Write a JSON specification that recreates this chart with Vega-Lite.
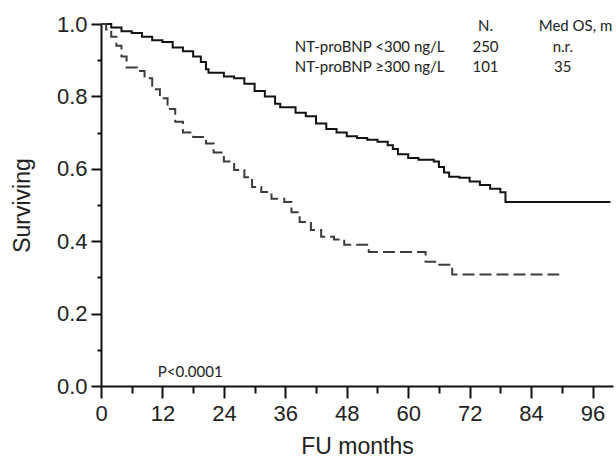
{
  "$schema": "https://vega.github.io/schema/vega-lite/v6.json",
  "width": 512,
  "height": 362,
  "autosize": "none",
  "padding": {"left": 101, "top": 24, "right": 3, "bottom": 80},
  "background": "white",
  "config": {
    "view": {"stroke": null},
    "axis": {
      "grid": false,
      "domainColor": "#111",
      "tickColor": "#111",
      "domainWidth": 2,
      "tickWidth": 2,
      "labelColor": "#222",
      "titleColor": "#222",
      "labelFont": "Liberation Sans",
      "titleFont": "Liberation Sans",
      "titleFontWeight": "normal"
    }
  },
  "datasets": {
    "km": [
      {"group": "low", "month": 0, "surv": 1.0},
      {"group": "low", "month": 2, "surv": 0.99},
      {"group": "low", "month": 4, "surv": 0.98},
      {"group": "low", "month": 6, "surv": 0.975},
      {"group": "low", "month": 8, "surv": 0.965},
      {"group": "low", "month": 10, "surv": 0.955},
      {"group": "low", "month": 12, "surv": 0.95},
      {"group": "low", "month": 14, "surv": 0.935},
      {"group": "low", "month": 16, "surv": 0.925},
      {"group": "low", "month": 18, "surv": 0.91},
      {"group": "low", "month": 19.5, "surv": 0.895},
      {"group": "low", "month": 20.5, "surv": 0.875},
      {"group": "low", "month": 21, "surv": 0.865},
      {"group": "low", "month": 24, "surv": 0.855},
      {"group": "low", "month": 26, "surv": 0.85},
      {"group": "low", "month": 28, "surv": 0.835},
      {"group": "low", "month": 30, "surv": 0.815},
      {"group": "low", "month": 32, "surv": 0.8},
      {"group": "low", "month": 34, "surv": 0.78},
      {"group": "low", "month": 35, "surv": 0.77},
      {"group": "low", "month": 38, "surv": 0.755},
      {"group": "low", "month": 40, "surv": 0.745},
      {"group": "low", "month": 42, "surv": 0.725},
      {"group": "low", "month": 44, "surv": 0.71},
      {"group": "low", "month": 46, "surv": 0.7},
      {"group": "low", "month": 48, "surv": 0.69},
      {"group": "low", "month": 50, "surv": 0.685},
      {"group": "low", "month": 52, "surv": 0.68},
      {"group": "low", "month": 54, "surv": 0.675},
      {"group": "low", "month": 56, "surv": 0.665},
      {"group": "low", "month": 57, "surv": 0.655},
      {"group": "low", "month": 58, "surv": 0.64},
      {"group": "low", "month": 60, "surv": 0.63},
      {"group": "low", "month": 62, "surv": 0.625},
      {"group": "low", "month": 65, "surv": 0.62},
      {"group": "low", "month": 66, "surv": 0.605},
      {"group": "low", "month": 67, "surv": 0.59},
      {"group": "low", "month": 68, "surv": 0.578},
      {"group": "low", "month": 70, "surv": 0.575},
      {"group": "low", "month": 72, "surv": 0.565},
      {"group": "low", "month": 74, "surv": 0.555},
      {"group": "low", "month": 76, "surv": 0.545},
      {"group": "low", "month": 78, "surv": 0.535},
      {"group": "low", "month": 79, "surv": 0.508},
      {"group": "low", "month": 99.5, "surv": 0.508},
      {"group": "high", "month": 0, "surv": 1.0},
      {"group": "high", "month": 1, "surv": 0.985},
      {"group": "high", "month": 2, "surv": 0.965},
      {"group": "high", "month": 3, "surv": 0.94},
      {"group": "high", "month": 4, "surv": 0.91},
      {"group": "high", "month": 5, "surv": 0.88},
      {"group": "high", "month": 7, "surv": 0.87},
      {"group": "high", "month": 8.5, "surv": 0.85},
      {"group": "high", "month": 10, "surv": 0.82},
      {"group": "high", "month": 11.5, "surv": 0.795},
      {"group": "high", "month": 13, "surv": 0.765},
      {"group": "high", "month": 14.5, "surv": 0.73},
      {"group": "high", "month": 16, "surv": 0.7},
      {"group": "high", "month": 18, "surv": 0.688},
      {"group": "high", "month": 20.5, "surv": 0.67},
      {"group": "high", "month": 22, "surv": 0.645},
      {"group": "high", "month": 24, "surv": 0.62},
      {"group": "high", "month": 26, "surv": 0.597},
      {"group": "high", "month": 28, "surv": 0.577},
      {"group": "high", "month": 29.5, "surv": 0.55},
      {"group": "high", "month": 31.3, "surv": 0.536},
      {"group": "high", "month": 33.3, "surv": 0.517},
      {"group": "high", "month": 35.8, "surv": 0.508},
      {"group": "high", "month": 37.2, "surv": 0.48},
      {"group": "high", "month": 38.8, "surv": 0.453},
      {"group": "high", "month": 41, "surv": 0.431},
      {"group": "high", "month": 43, "surv": 0.412},
      {"group": "high", "month": 45.5, "surv": 0.405},
      {"group": "high", "month": 47.5, "surv": 0.39},
      {"group": "high", "month": 52.3, "surv": 0.37},
      {"group": "high", "month": 63.4, "surv": 0.343},
      {"group": "high", "month": 65.5, "surv": 0.335},
      {"group": "high", "month": 68.6, "surv": 0.308},
      {"group": "high", "month": 89.5, "surv": 0.308}
    ]
  },
  "resolve": {"axis": {"x": "independent", "y": "independent"}},
  "layer": [
    {
      "data": {"name": "km"},
      "mark": {"type": "line", "interpolate": "step-after", "strokeWidth": 2},
      "encoding": {
        "x": {
          "field": "month",
          "type": "quantitative",
          "scale": {"domain": [0, 100], "nice": false},
          "axis": {
            "orient": "bottom",
            "values": [0, 12, 24, 36, 48, 60, 72, 84, 96],
            "tickSize": 12,
            "labelFontSize": 22,
            "labelPadding": 5,
            "labelFlush": false,
            "title": "FU months",
            "titleFontSize": 23,
            "titlePadding": 11
          }
        },
        "y": {
          "field": "surv",
          "type": "quantitative",
          "scale": {"domain": [0, 1], "nice": false},
          "axis": {
            "orient": "left",
            "values": [0, 0.2, 0.4, 0.6, 0.8, 1.0],
            "format": ".1f",
            "tickSize": 10,
            "labelFontSize": 22,
            "labelPadding": 4,
            "labelFlush": false,
            "title": "Surviving",
            "titleFontSize": 23,
            "titlePadding": 22
          }
        },
        "color": {
          "field": "group",
          "type": "nominal",
          "scale": {"domain": ["low", "high"], "range": ["#111111", "#3c3c3c"]},
          "legend": null
        },
        "strokeDash": {
          "field": "group",
          "type": "nominal",
          "scale": {"domain": ["low", "high"], "range": [[1, 0], [12, 5]]},
          "legend": null
        }
      }
    },
    {
      "data": {"name": "km"},
      "mark": {"type": "point", "opacity": 0},
      "encoding": {
        "x": {
          "field": "month",
          "type": "quantitative",
          "axis": {
            "orient": "bottom",
            "values": [6, 18, 30, 42, 54, 66, 78, 90],
            "tickSize": 7,
            "labels": false,
            "domain": false,
            "title": null
          }
        },
        "y": {
          "field": "surv",
          "type": "quantitative",
          "axis": {
            "orient": "left",
            "values": [0.1, 0.3, 0.5, 0.7, 0.9],
            "tickSize": 4,
            "labels": false,
            "domain": false,
            "title": null
          }
        }
      }
    },
    {
      "data": {"values": [{"t": "N."}]},
      "mark": {"type": "text", "font": "Lato", "fontSize": 15, "align": "center", "baseline": "middle", "color": "#222"},
      "encoding": {"x": {"datum": 75.1, "axis": null}, "y": {"datum": 0.995, "axis": null}, "text": {"field": "t"}}
    },
    {
      "data": {"values": [{"t": "Med OS, m"}]},
      "mark": {"type": "text", "font": "Lato", "fontSize": 15, "align": "left", "baseline": "middle", "color": "#222"},
      "encoding": {"x": {"datum": 85.5, "axis": null}, "y": {"datum": 0.995, "axis": null}, "text": {"field": "t"}}
    },
    {
      "data": {"values": [{"g": "NT-proBNP <300 ng/L", "n": "250", "m": "n.r.", "r": 0.936}, {"g": "NT-proBNP ≥300 ng/L", "n": "101", "m": "35", "r": 0.881}]},
      "layer": [
        {
          "mark": {"type": "text", "font": "Lato", "fontSize": 15, "align": "right", "baseline": "middle", "color": "#222"},
          "encoding": {"x": {"datum": 67.1, "axis": null}, "y": {"field": "r", "type": "quantitative", "axis": null}, "text": {"field": "g"}}
        },
        {
          "mark": {"type": "text", "font": "Lato", "fontSize": 15, "align": "center", "baseline": "middle", "color": "#222"},
          "encoding": {"x": {"datum": 75.1, "axis": null}, "y": {"field": "r", "type": "quantitative", "axis": null}, "text": {"field": "n"}}
        },
        {
          "mark": {"type": "text", "font": "Lato", "fontSize": 15, "align": "center", "baseline": "middle", "color": "#222"},
          "encoding": {"x": {"datum": 90.2, "axis": null}, "y": {"field": "r", "type": "quantitative", "axis": null}, "text": {"field": "m"}}
        }
      ]
    },
    {
      "data": {"values": [{"t": "P<0.0001"}]},
      "mark": {"type": "text", "font": "Lato", "fontSize": 15, "align": "left", "baseline": "middle", "color": "#222"},
      "encoding": {"x": {"datum": 11.1, "axis": null}, "y": {"datum": 0.039, "axis": null}, "text": {"field": "t"}}
    }
  ]
}
